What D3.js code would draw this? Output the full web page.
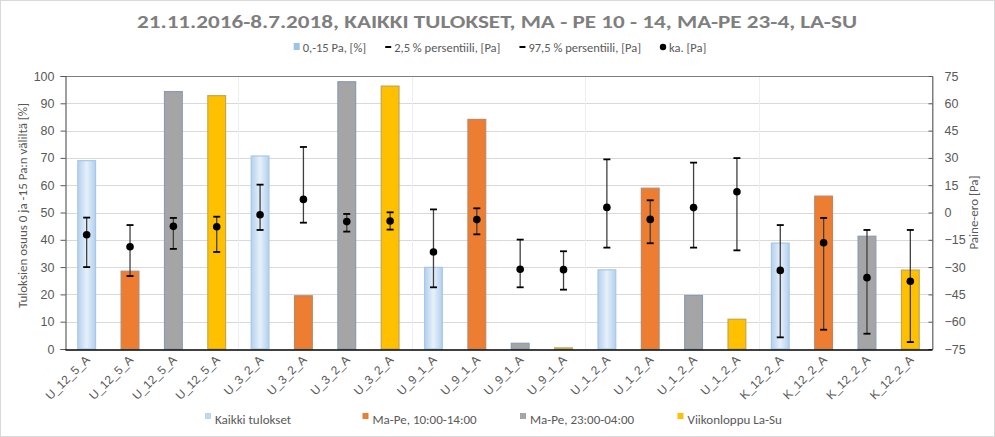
<!DOCTYPE html>
<html>
<head>
<meta charset="utf-8">
<script src="https://cdn.jsdelivr.net/npm/d3@7/dist/d3.min.js"></script>
<style>
  html, body { margin: 0; padding: 0; background: #fff; }
  svg { display: block; font-family: Carlito, Calibri, Lato, "Open Sans", sans-serif; }
</style>
</head>
<body>
<svg id="chart" width="995" height="437"></svg>
<script>
// ---------------- data ----------------
const categories = [
  "U_12_5_A","U_12_5_A","U_12_5_A","U_12_5_A",
  "U_3_2_A","U_3_2_A","U_3_2_A","U_3_2_A",
  "U_9_1_A","U_9_1_A","U_9_1_A","U_9_1_A",
  "U_1_2_A","U_1_2_A","U_1_2_A","U_1_2_A",
  "K_12_2_A","K_12_2_A","K_12_2_A","K_12_2_A"
];
const periods = ["Kaikki tulokset", "Ma-Pe, 10:00-14:00", "Ma-Pe, 23:00-04:00", "Viikonloppu La-Su"];
const periodOfBar = [0,1,2,3, 0,1,2,3, 0,1,2,3, 0,1,2,3, 0,1,2,3];
// share of results between 0 and -15 Pa [%]
const share = [69, 28.5, 94.3, 92.8, 70.7, 19.5, 97.9, 96.3, 29.9, 84.1, 2.1, 0.4, 29, 58.9, 19.6, 10.9, 38.8, 56, 41.3, 28.9];
// 2.5 % percentile [Pa]
const p025 = [-30, -34.9, -20, -21.7, -9.6, -5.6, -10.5, -9.4, -41.1, -12, -41.1, -42.4, -19.3, -16.9, -19.3, -20.8, -68.6, -64.4, -66.6, -71.2];
// 97.5 % percentile [Pa]
const p975 = [-2.8, -6.9, -3, -2.3, 15.3, 36, -0.8, 0.1, 1.7, 2.3, -14.9, -21.3, 29.2, 6.7, 27.4, 29.9, -6.9, -3, -9.6, -9.6];
// mean [Pa]
const mean = [-12.2, -18.8, -7.6, -7.8, -1.2, 7.2, -5, -4.7, -21.7, -3.9, -31.2, -31.4, 2.8, -3.8, 2.7, 11.4, -31.8, -16.6, -35.8, -37.8];
const leftTicks = [0,10,20,30,40,50,60,70,80,90,100];
const rightTicks = [-75,-60,-45,-30,-15,0,15,30,45,60,75];
const topLegend = ["0,-15 Pa, [%]", "2,5 % persentiili, [Pa]", "97,5 % persentiili, [Pa]", "ka. [Pa]"];
const titleText = "21.11.2016-8.7.2018, KAIKKI TULOKSET, MA - PE 10 - 14, MA-PE 23-4, LA-SU";
const leftTitle = "Tuloksien osuus 0 ja -15 Pa:n väliltä [%]";
const rightTitle = "Paine-ero [Pa]";

// ---------------- styling ----------------
const periodFill = ["url(#gradKaikki)", "#ed7d31", "#a5a5a5", "#ffc000"];
const periodStroke = ["#a9c8e8", "#b88a6a", "#8a9cb3", "#c2a652"];
const periodSwatch = ["#bdd7ee", "#ed7d31", "#a5a5a5", "#ffc000"];
const textCol = "#595959";

const svg = d3.select("#chart");
const W = 995, H = 437;
const m = {left: 65, right: 932, top: 76, bottom: 349};

// outer frame
svg.append("rect").attr("x", 0.5).attr("y", 0.5).attr("width", W - 1).attr("height", H - 1)
  .attr("fill", "#fff").attr("stroke", "#d9d9d9");

const defs = svg.append("defs");
const g1 = defs.append("linearGradient").attr("id", "gradKaikki").attr("x1", "0%").attr("x2", "100%").attr("y1", "0%").attr("y2", "0%");
g1.append("stop").attr("offset", "0%").attr("stop-color", "#b3d0ee");
g1.append("stop").attr("offset", "50%").attr("stop-color", "#e6f0fa");
g1.append("stop").attr("offset", "100%").attr("stop-color", "#b3d0ee");

// scales
const idx = d3.range(categories.length);
const x = d3.scaleBand().domain(idx).range([m.left, m.right]).paddingInner(0.59).paddingOuter(0.295);
const step = x.step();
const yL = d3.scaleLinear().domain([0, 100]).range([m.bottom, m.top]);
const yR = d3.scaleLinear().domain([-75, 75]).range([m.bottom, m.top]);

// title
svg.append("text").attr("x", 497).attr("y", 28).attr("text-anchor", "middle")
  .attr("font-size", 19).attr("font-weight", "bold").attr("fill", "#7f7f7f")
  .attr("textLength", 720).attr("lengthAdjust", "spacingAndGlyphs")
  .text(titleText);

// horizontal gridlines
svg.append("g").selectAll("line").data(leftTicks.slice(1, -1)).join("line")
  .attr("x1", m.left).attr("x2", m.right)
  .attr("y1", d => Math.round(yL(d)) + 0.5).attr("y2", d => Math.round(yL(d)) + 0.5)
  .attr("stroke", "#d9d9d9").attr("stroke-width", 1);

// vertical group separators
const groupBounds = d3.range(4, categories.length, 4);
svg.append("g").selectAll("line").data(groupBounds).join("line")
  .attr("x1", d => Math.round(m.left + d * step) + 0.5).attr("x2", d => Math.round(m.left + d * step) + 0.5)
  .attr("y1", m.top).attr("y2", m.bottom)
  .attr("stroke", "#eeeeee").attr("stroke-width", 1);

// bars
svg.append("g").selectAll("rect").data(idx).join("rect")
  .attr("x", i => x(i))
  .attr("y", i => yL(share[i]))
  .attr("width", x.bandwidth())
  .attr("height", i => yL(0) - yL(share[i]))
  .attr("fill", i => periodFill[periodOfBar[i]])
  .attr("stroke", i => periodStroke[periodOfBar[i]])
  .attr("stroke-width", 1.2);

// plot frame
svg.append("line").attr("x1", m.left).attr("x2", m.right).attr("y1", m.top + 0.5).attr("y2", m.top + 0.5).attr("stroke", "#7f7f7f");
svg.append("line").attr("x1", m.right + 0.5).attr("x2", m.right + 0.5).attr("y1", m.top).attr("y2", m.bottom).attr("stroke", "#7f7f7f");

// left axis
const axL = d3.axisLeft(yL).tickValues(leftTicks).tickSize(5).tickPadding(6);
const gL = svg.append("g").attr("transform", `translate(${m.left + 0.5},0)`).call(axL);
gL.select(".domain").attr("stroke", "#404040");
gL.selectAll(".tick line").attr("stroke", "#595959");
gL.selectAll("text").attr("fill", textCol).attr("font-size", 12.5).attr("font-family", null);

// right axis
const axR = d3.axisRight(yR).tickValues(rightTicks).tickSize(-4).tickPadding(12);
const gR = svg.append("g").attr("transform", `translate(${m.right + 0.5},0)`).call(axR);
gR.select(".domain").attr("stroke", "#7f7f7f");
gR.selectAll(".tick line").attr("stroke", "#595959");
gR.selectAll("text").attr("fill", textCol).attr("font-size", 12.5).attr("font-family", null);

// bottom axis (x)
const axB = d3.axisBottom(x).tickSize(0).tickFormat(i => categories[i]);
const gB = svg.append("g").attr("transform", `translate(0,${m.bottom + 0.5})`).call(axB);
gB.select(".domain").attr("stroke", "#000").attr("stroke-width", 1.3);
gB.selectAll("text")
  .attr("fill", textCol).attr("font-size", 12).attr("font-family", null)
  .attr("text-anchor", "end")
  .attr("dy", null).attr("y", 0)
  .attr("transform", "translate(4,11) rotate(-45)");

// axis titles
svg.append("text").attr("transform", `translate(27,${(m.top + m.bottom) / 2 - 7}) rotate(-90)`)
  .attr("text-anchor", "middle").attr("font-size", 13).attr("fill", textCol).text(leftTitle);
svg.append("text").attr("transform", `translate(978,${(m.top + m.bottom) / 2}) rotate(-90)`)
  .attr("text-anchor", "middle").attr("font-size", 13).attr("fill", textCol).text(rightTitle);

// error bars
const eb = svg.append("g");
const cx = i => x(i) + x.bandwidth() / 2;
eb.selectAll("line.stem").data(idx).join("line").attr("class", "stem")
  .attr("x1", cx).attr("x2", cx)
  .attr("y1", i => yR(p975[i])).attr("y2", i => yR(p025[i]))
  .attr("stroke", "#404040").attr("stroke-width", 1.3);
eb.selectAll("line.capHi").data(idx).join("line").attr("class", "capHi")
  .attr("x1", i => cx(i) - 3.5).attr("x2", i => cx(i) + 3.5)
  .attr("y1", i => yR(p975[i])).attr("y2", i => yR(p975[i]))
  .attr("stroke", "#000").attr("stroke-width", 1.8);
eb.selectAll("line.capLo").data(idx).join("line").attr("class", "capLo")
  .attr("x1", i => cx(i) - 3.5).attr("x2", i => cx(i) + 3.5)
  .attr("y1", i => yR(p025[i])).attr("y2", i => yR(p025[i]))
  .attr("stroke", "#000").attr("stroke-width", 1.8);
eb.selectAll("circle").data(idx).join("circle")
  .attr("cx", cx).attr("cy", i => yR(mean[i])).attr("r", 3.8).attr("fill", "#000");

// top legend
const tl = svg.append("g");
const tlY = 52;
let items = [];
topLegend.forEach((t, k) => {
  const gi = tl.append("g");
  if (k === 0) {
    gi.append("rect").attr("x", 0).attr("y", -9).attr("width", 6).attr("height", 7).attr("fill", "#9dc3e6");
  } else if (k === 3) {
    gi.append("circle").attr("cx", 3).attr("cy", -5).attr("r", 3.2).attr("fill", "#000");
  } else {
    gi.append("line").attr("x1", 0).attr("x2", 6).attr("y1", -5).attr("y2", -5).attr("stroke", "#000").attr("stroke-width", 2);
  }
  const tx = gi.append("text").attr("x", 9).attr("y", 0).attr("font-size", 12.5).attr("fill", textCol).text(t);
  items.push({g: gi, w: 9 + tx.node().getComputedTextLength()});
});
const gap = 19;
const totalW = d3.sum(items, d => d.w) + gap * (items.length - 1);
let cur = 500 - totalW / 2;
items.forEach(it => { it.g.attr("transform", `translate(${cur},${tlY})`); cur += it.w + gap; });

// bottom legend
const bl = svg.append("g");
periods.forEach((p, k) => {
  const gi = bl.append("g").attr("transform", `translate(${205 + k * 157.5},424)`);
  gi.append("rect").attr("x", 0).attr("y", -11).attr("width", 6).attr("height", 6).attr("fill", periodSwatch[k]);
  gi.append("text").attr("x", 10).attr("y", 0).attr("font-size", 13).attr("fill", textCol).text(p);
});
</script>
</body>
</html>
